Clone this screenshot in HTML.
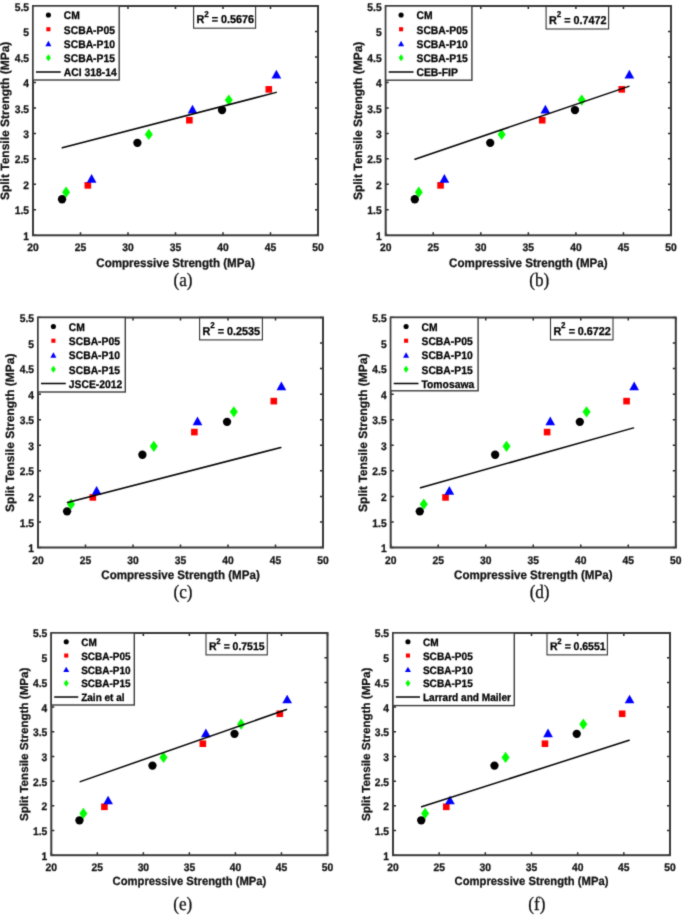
<!DOCTYPE html>
<html><head><meta charset="utf-8"><title>Split tensile vs compressive strength</title>
<style>
html,body{margin:0;padding:0;background:#fff;}
body{width:685px;height:916px;overflow:hidden;}
svg{display:block;}
text{text-rendering:geometricPrecision;}
</style></head>
<body>
<svg width="685" height="916" viewBox="0 0 685 916">
<defs><filter id="soft" x="0" y="0" width="685" height="916" filterUnits="userSpaceOnUse" color-interpolation-filters="sRGB"><feConvolveMatrix order="3" kernelMatrix="0.01917 0.10012 0.01917 0.10012 0.52283 0.10012 0.01917 0.10012 0.01917" divisor="1" preserveAlpha="true" edgeMode="duplicate"/></filter></defs>
<g filter="url(#soft)">
<rect width="685" height="916" fill="#fff"/>
<circle cx="62.07" cy="199.27" r="4.15" fill="#000"/>
<circle cx="137.4" cy="142.82" r="4.15" fill="#000"/>
<circle cx="222.05" cy="110.05" r="4.15" fill="#000"/>
<rect x="84.52" y="182.06" width="6.6" height="6.6" fill="#f00"/>
<rect x="186.07" y="116.94" width="6.6" height="6.6" fill="#f00"/>
<rect x="265.49" y="86.06" width="6.6" height="6.6" fill="#f00"/>
<path d="M91.62 173.98L96.47 182.68L86.77 182.68Z" fill="#00f"/>
<path d="M192.5 104.73L197.35 113.43L187.66 113.43Z" fill="#00f"/>
<path d="M276.39 69.78L281.24 78.48L271.54 78.48Z" fill="#00f"/>
<path d="M66.06 186.54L70.06 192.14L66.06 197.74L62.06 192.14Z" fill="#0f0"/>
<path d="M148.8 128.81L152.8 134.41L148.8 140.01L144.8 134.41Z" fill="#0f0"/>
<path d="M228.79 94.46L232.79 100.06L228.79 105.66L224.79 100.06Z" fill="#0f0"/>
<line x1="62.26" y1="147.81" x2="276.2" y2="92.37" stroke="#000" stroke-width="1.5" stroke-linecap="round"/>
<path d="M33 235.3V232.3M33 6V9M80.5 235.3V232.3M80.5 6V9M128 235.3V232.3M128 6V9M175.5 235.3V232.3M175.5 6V9M223 235.3V232.3M223 6V9M270.5 235.3V232.3M270.5 6V9M318 235.3V232.3M318 6V9M33 235.3H36M318 235.3H315M33 209.82H36M318 209.82H315M33 184.34H36M318 184.34H315M33 158.87H36M318 158.87H315M33 133.39H36M318 133.39H315M33 107.91H36M318 107.91H315M33 82.43H36M318 82.43H315M33 56.96H36M318 56.96H315M33 31.48H36M318 31.48H315M33 6H36M318 6H315" stroke="#262626" stroke-width="1.5" fill="none"/>
<rect x="33" y="6" width="285" height="229.3" fill="none" stroke="#3a3a3a" stroke-width="2.0"/>
<rect x="33" y="6" width="86.2" height="74" fill="#fff" stroke="#3a3a3a" stroke-width="1.4"/>
<circle cx="48.4" cy="15" r="2.57" fill="#000"/>
<text transform="translate(63.8 19.3) scale(1 1.06)" style="font-family:'Liberation Sans',sans-serif;font-weight:bold;font-size:10.35px" fill="#000" stroke="#000" stroke-width="0.25">CM</text>
<rect x="46.35" y="27.2" width="4.09" height="4.09" fill="#f00"/>
<text transform="translate(63.8 33.55) scale(1 1.06)" style="font-family:'Liberation Sans',sans-serif;font-weight:bold;font-size:10.35px" fill="#000" stroke="#000" stroke-width="0.25">SCBA-P05</text>
<path d="M48.4 40.8L51.41 46.2L45.39 46.2Z" fill="#00f"/>
<text transform="translate(63.8 47.8) scale(1 1.06)" style="font-family:'Liberation Sans',sans-serif;font-weight:bold;font-size:10.35px" fill="#000" stroke="#000" stroke-width="0.25">SCBA-P10</text>
<path d="M48.4 54.28L50.88 57.75L48.4 61.22L45.92 57.75Z" fill="#0f0"/>
<text transform="translate(63.8 62.05) scale(1 1.06)" style="font-family:'Liberation Sans',sans-serif;font-weight:bold;font-size:10.35px" fill="#000" stroke="#000" stroke-width="0.25">SCBA-P15</text>
<line x1="36" y1="72" x2="60.8" y2="72" stroke="#000" stroke-width="1.5"/>
<text transform="translate(63.8 76.3) scale(1 1.06)" style="font-family:'Liberation Sans',sans-serif;font-weight:bold;font-size:10.35px" fill="#000" stroke="#000" stroke-width="0.25">ACI 318-14</text>
<rect x="193.6" y="5.9" width="62" height="22.3" fill="none" stroke="#333" stroke-width="1.1"/>
<text transform="translate(196.5 23.2) scale(1 1.06)" style="font-family:'Liberation Sans',sans-serif;font-weight:bold;font-size:10.8px" fill="#000" stroke="#000" stroke-width="0.25">R</text>
<text transform="translate(204.2 16.6) scale(1 1.06)" style="font-family:'Liberation Sans',sans-serif;font-weight:bold;font-size:8px" fill="#000" stroke="#000" stroke-width="0.25">2</text>
<text transform="translate(211.8 23.2) scale(1 1.06)" style="font-family:'Liberation Sans',sans-serif;font-weight:bold;font-size:10.8px" fill="#000" stroke="#000" stroke-width="0.25">=</text>
<text transform="translate(220.9 23.2) scale(1 1.06)" style="font-family:'Liberation Sans',sans-serif;font-weight:bold;font-size:10.8px" fill="#000" stroke="#000" stroke-width="0.25">0.5676</text>
<text transform="translate(33 251.3) scale(1 1.06)" style="font-family:'Liberation Sans',sans-serif;font-weight:bold;font-size:10.3px" fill="#111" stroke="#111" stroke-width="0.25" text-anchor="middle">20</text>
<text transform="translate(80.5 251.3) scale(1 1.06)" style="font-family:'Liberation Sans',sans-serif;font-weight:bold;font-size:10.3px" fill="#111" stroke="#111" stroke-width="0.25" text-anchor="middle">25</text>
<text transform="translate(128 251.3) scale(1 1.06)" style="font-family:'Liberation Sans',sans-serif;font-weight:bold;font-size:10.3px" fill="#111" stroke="#111" stroke-width="0.25" text-anchor="middle">30</text>
<text transform="translate(175.5 251.3) scale(1 1.06)" style="font-family:'Liberation Sans',sans-serif;font-weight:bold;font-size:10.3px" fill="#111" stroke="#111" stroke-width="0.25" text-anchor="middle">35</text>
<text transform="translate(223 251.3) scale(1 1.06)" style="font-family:'Liberation Sans',sans-serif;font-weight:bold;font-size:10.3px" fill="#111" stroke="#111" stroke-width="0.25" text-anchor="middle">40</text>
<text transform="translate(270.5 251.3) scale(1 1.06)" style="font-family:'Liberation Sans',sans-serif;font-weight:bold;font-size:10.3px" fill="#111" stroke="#111" stroke-width="0.25" text-anchor="middle">45</text>
<text transform="translate(318 251.3) scale(1 1.06)" style="font-family:'Liberation Sans',sans-serif;font-weight:bold;font-size:10.3px" fill="#111" stroke="#111" stroke-width="0.25" text-anchor="middle">50</text>
<text transform="translate(29 239.9) scale(1 1.06)" style="font-family:'Liberation Sans',sans-serif;font-weight:bold;font-size:10.3px" fill="#111" stroke="#111" stroke-width="0.25" text-anchor="end">1</text>
<text transform="translate(29 214.42) scale(1 1.06)" style="font-family:'Liberation Sans',sans-serif;font-weight:bold;font-size:10.3px" fill="#111" stroke="#111" stroke-width="0.25" text-anchor="end">1.5</text>
<text transform="translate(29 188.94) scale(1 1.06)" style="font-family:'Liberation Sans',sans-serif;font-weight:bold;font-size:10.3px" fill="#111" stroke="#111" stroke-width="0.25" text-anchor="end">2</text>
<text transform="translate(29 163.47) scale(1 1.06)" style="font-family:'Liberation Sans',sans-serif;font-weight:bold;font-size:10.3px" fill="#111" stroke="#111" stroke-width="0.25" text-anchor="end">2.5</text>
<text transform="translate(29 137.99) scale(1 1.06)" style="font-family:'Liberation Sans',sans-serif;font-weight:bold;font-size:10.3px" fill="#111" stroke="#111" stroke-width="0.25" text-anchor="end">3</text>
<text transform="translate(29 112.51) scale(1 1.06)" style="font-family:'Liberation Sans',sans-serif;font-weight:bold;font-size:10.3px" fill="#111" stroke="#111" stroke-width="0.25" text-anchor="end">3.5</text>
<text transform="translate(29 87.03) scale(1 1.06)" style="font-family:'Liberation Sans',sans-serif;font-weight:bold;font-size:10.3px" fill="#111" stroke="#111" stroke-width="0.25" text-anchor="end">4</text>
<text transform="translate(29 61.56) scale(1 1.06)" style="font-family:'Liberation Sans',sans-serif;font-weight:bold;font-size:10.3px" fill="#111" stroke="#111" stroke-width="0.25" text-anchor="end">4.5</text>
<text transform="translate(29 36.08) scale(1 1.06)" style="font-family:'Liberation Sans',sans-serif;font-weight:bold;font-size:10.3px" fill="#111" stroke="#111" stroke-width="0.25" text-anchor="end">5</text>
<text transform="translate(29 10.6) scale(1 1.06)" style="font-family:'Liberation Sans',sans-serif;font-weight:bold;font-size:10.3px" fill="#111" stroke="#111" stroke-width="0.25" text-anchor="end">5.5</text>
<text transform="translate(175.5 266.5) scale(1 1.06)" style="font-family:'Liberation Sans',sans-serif;font-weight:bold;font-size:11.6px" fill="#111" stroke="#111" stroke-width="0.25" text-anchor="middle">Compressive Strength (MPa)</text>
<text transform="translate(8.8 120.85) rotate(-90)" style="font-family:'Liberation Sans',sans-serif;font-weight:bold;font-size:12px" fill="#111" stroke="#111" stroke-width="0.25" text-anchor="middle">Split Tensile Strength (MPa)</text>
<text transform="translate(183 285.8) scale(0.9 1)" style="font-family:'Liberation Serif',serif;font-size:19px" fill="#111" stroke="#111" stroke-width="0.3" text-anchor="middle">(a)</text>
<circle cx="414.8" cy="199.27" r="4.15" fill="#000"/>
<circle cx="490.21" cy="142.82" r="4.15" fill="#000"/>
<circle cx="574.95" cy="110.05" r="4.15" fill="#000"/>
<rect x="437.27" y="182.06" width="6.6" height="6.6" fill="#f00"/>
<rect x="538.93" y="116.94" width="6.6" height="6.6" fill="#f00"/>
<rect x="618.44" y="86.06" width="6.6" height="6.6" fill="#f00"/>
<path d="M444.38 173.98L449.23 182.68L439.53 182.68Z" fill="#00f"/>
<path d="M545.37 104.73L550.22 113.43L540.52 113.43Z" fill="#00f"/>
<path d="M629.35 69.78L634.2 78.48L624.5 78.48Z" fill="#00f"/>
<path d="M418.79 186.54L422.79 192.14L418.79 197.74L414.79 192.14Z" fill="#0f0"/>
<path d="M501.63 128.81L505.63 134.41L501.63 140.01L497.63 134.41Z" fill="#0f0"/>
<path d="M581.7 94.46L585.7 100.06L581.7 105.66L577.7 100.06Z" fill="#0f0"/>
<line x1="414.99" y1="159.22" x2="628.78" y2="86.36" stroke="#000" stroke-width="1.5" stroke-linecap="round"/>
<path d="M385.7 235.3V232.3M385.7 6V9M433.25 235.3V232.3M433.25 6V9M480.8 235.3V232.3M480.8 6V9M528.35 235.3V232.3M528.35 6V9M575.9 235.3V232.3M575.9 6V9M623.45 235.3V232.3M623.45 6V9M671 235.3V232.3M671 6V9M385.7 235.3H388.7M671 235.3H668M385.7 209.82H388.7M671 209.82H668M385.7 184.34H388.7M671 184.34H668M385.7 158.87H388.7M671 158.87H668M385.7 133.39H388.7M671 133.39H668M385.7 107.91H388.7M671 107.91H668M385.7 82.43H388.7M671 82.43H668M385.7 56.96H388.7M671 56.96H668M385.7 31.48H388.7M671 31.48H668M385.7 6H388.7M671 6H668" stroke="#262626" stroke-width="1.5" fill="none"/>
<rect x="385.7" y="6" width="285.3" height="229.3" fill="none" stroke="#3a3a3a" stroke-width="2.0"/>
<rect x="385.7" y="6" width="86.2" height="74.2" fill="#fff" stroke="#3a3a3a" stroke-width="1.4"/>
<circle cx="401.1" cy="15" r="2.57" fill="#000"/>
<text transform="translate(416.5 19.3) scale(1 1.06)" style="font-family:'Liberation Sans',sans-serif;font-weight:bold;font-size:10.35px" fill="#000" stroke="#000" stroke-width="0.25">CM</text>
<rect x="399.05" y="27.2" width="4.09" height="4.09" fill="#f00"/>
<text transform="translate(416.5 33.55) scale(1 1.06)" style="font-family:'Liberation Sans',sans-serif;font-weight:bold;font-size:10.35px" fill="#000" stroke="#000" stroke-width="0.25">SCBA-P05</text>
<path d="M401.1 40.8L404.11 46.2L398.09 46.2Z" fill="#00f"/>
<text transform="translate(416.5 47.8) scale(1 1.06)" style="font-family:'Liberation Sans',sans-serif;font-weight:bold;font-size:10.35px" fill="#000" stroke="#000" stroke-width="0.25">SCBA-P10</text>
<path d="M401.1 54.28L403.58 57.75L401.1 61.22L398.62 57.75Z" fill="#0f0"/>
<text transform="translate(416.5 62.05) scale(1 1.06)" style="font-family:'Liberation Sans',sans-serif;font-weight:bold;font-size:10.35px" fill="#000" stroke="#000" stroke-width="0.25">SCBA-P15</text>
<line x1="388.7" y1="72" x2="413.5" y2="72" stroke="#000" stroke-width="1.5"/>
<text transform="translate(416.5 76.3) scale(1 1.06)" style="font-family:'Liberation Sans',sans-serif;font-weight:bold;font-size:10.35px" fill="#000" stroke="#000" stroke-width="0.25">CEB-FIP</text>
<rect x="546.1" y="5.9" width="62.5" height="23.1" fill="none" stroke="#333" stroke-width="1.1"/>
<text transform="translate(549 24) scale(1 1.06)" style="font-family:'Liberation Sans',sans-serif;font-weight:bold;font-size:10.8px" fill="#000" stroke="#000" stroke-width="0.25">R</text>
<text transform="translate(556.7 17.4) scale(1 1.06)" style="font-family:'Liberation Sans',sans-serif;font-weight:bold;font-size:8px" fill="#000" stroke="#000" stroke-width="0.25">2</text>
<text transform="translate(564.3 24) scale(1 1.06)" style="font-family:'Liberation Sans',sans-serif;font-weight:bold;font-size:10.8px" fill="#000" stroke="#000" stroke-width="0.25">=</text>
<text transform="translate(573.4 24) scale(1 1.06)" style="font-family:'Liberation Sans',sans-serif;font-weight:bold;font-size:10.8px" fill="#000" stroke="#000" stroke-width="0.25">0.7472</text>
<text transform="translate(385.7 251.3) scale(1 1.06)" style="font-family:'Liberation Sans',sans-serif;font-weight:bold;font-size:10.3px" fill="#111" stroke="#111" stroke-width="0.25" text-anchor="middle">20</text>
<text transform="translate(433.25 251.3) scale(1 1.06)" style="font-family:'Liberation Sans',sans-serif;font-weight:bold;font-size:10.3px" fill="#111" stroke="#111" stroke-width="0.25" text-anchor="middle">25</text>
<text transform="translate(480.8 251.3) scale(1 1.06)" style="font-family:'Liberation Sans',sans-serif;font-weight:bold;font-size:10.3px" fill="#111" stroke="#111" stroke-width="0.25" text-anchor="middle">30</text>
<text transform="translate(528.35 251.3) scale(1 1.06)" style="font-family:'Liberation Sans',sans-serif;font-weight:bold;font-size:10.3px" fill="#111" stroke="#111" stroke-width="0.25" text-anchor="middle">35</text>
<text transform="translate(575.9 251.3) scale(1 1.06)" style="font-family:'Liberation Sans',sans-serif;font-weight:bold;font-size:10.3px" fill="#111" stroke="#111" stroke-width="0.25" text-anchor="middle">40</text>
<text transform="translate(623.45 251.3) scale(1 1.06)" style="font-family:'Liberation Sans',sans-serif;font-weight:bold;font-size:10.3px" fill="#111" stroke="#111" stroke-width="0.25" text-anchor="middle">45</text>
<text transform="translate(671 251.3) scale(1 1.06)" style="font-family:'Liberation Sans',sans-serif;font-weight:bold;font-size:10.3px" fill="#111" stroke="#111" stroke-width="0.25" text-anchor="middle">50</text>
<text transform="translate(381.7 239.9) scale(1 1.06)" style="font-family:'Liberation Sans',sans-serif;font-weight:bold;font-size:10.3px" fill="#111" stroke="#111" stroke-width="0.25" text-anchor="end">1</text>
<text transform="translate(381.7 214.42) scale(1 1.06)" style="font-family:'Liberation Sans',sans-serif;font-weight:bold;font-size:10.3px" fill="#111" stroke="#111" stroke-width="0.25" text-anchor="end">1.5</text>
<text transform="translate(381.7 188.94) scale(1 1.06)" style="font-family:'Liberation Sans',sans-serif;font-weight:bold;font-size:10.3px" fill="#111" stroke="#111" stroke-width="0.25" text-anchor="end">2</text>
<text transform="translate(381.7 163.47) scale(1 1.06)" style="font-family:'Liberation Sans',sans-serif;font-weight:bold;font-size:10.3px" fill="#111" stroke="#111" stroke-width="0.25" text-anchor="end">2.5</text>
<text transform="translate(381.7 137.99) scale(1 1.06)" style="font-family:'Liberation Sans',sans-serif;font-weight:bold;font-size:10.3px" fill="#111" stroke="#111" stroke-width="0.25" text-anchor="end">3</text>
<text transform="translate(381.7 112.51) scale(1 1.06)" style="font-family:'Liberation Sans',sans-serif;font-weight:bold;font-size:10.3px" fill="#111" stroke="#111" stroke-width="0.25" text-anchor="end">3.5</text>
<text transform="translate(381.7 87.03) scale(1 1.06)" style="font-family:'Liberation Sans',sans-serif;font-weight:bold;font-size:10.3px" fill="#111" stroke="#111" stroke-width="0.25" text-anchor="end">4</text>
<text transform="translate(381.7 61.56) scale(1 1.06)" style="font-family:'Liberation Sans',sans-serif;font-weight:bold;font-size:10.3px" fill="#111" stroke="#111" stroke-width="0.25" text-anchor="end">4.5</text>
<text transform="translate(381.7 36.08) scale(1 1.06)" style="font-family:'Liberation Sans',sans-serif;font-weight:bold;font-size:10.3px" fill="#111" stroke="#111" stroke-width="0.25" text-anchor="end">5</text>
<text transform="translate(381.7 10.6) scale(1 1.06)" style="font-family:'Liberation Sans',sans-serif;font-weight:bold;font-size:10.3px" fill="#111" stroke="#111" stroke-width="0.25" text-anchor="end">5.5</text>
<text transform="translate(528.35 266.5) scale(1 1.06)" style="font-family:'Liberation Sans',sans-serif;font-weight:bold;font-size:11.6px" fill="#111" stroke="#111" stroke-width="0.25" text-anchor="middle">Compressive Strength (MPa)</text>
<text transform="translate(361.5 120.85) rotate(-90)" style="font-family:'Liberation Sans',sans-serif;font-weight:bold;font-size:12px" fill="#111" stroke="#111" stroke-width="0.25" text-anchor="middle">Split Tensile Strength (MPa)</text>
<text transform="translate(539.2 285.8) scale(0.9 1)" style="font-family:'Liberation Serif',serif;font-size:19px" fill="#111" stroke="#111" stroke-width="0.3" text-anchor="middle">(b)</text>
<circle cx="67.07" cy="511.36" r="4.15" fill="#000"/>
<circle cx="142.4" cy="454.73" r="4.15" fill="#000"/>
<circle cx="227.05" cy="421.87" r="4.15" fill="#000"/>
<rect x="89.52" y="494.11" width="6.6" height="6.6" fill="#f00"/>
<rect x="191.07" y="428.79" width="6.6" height="6.6" fill="#f00"/>
<rect x="270.49" y="397.82" width="6.6" height="6.6" fill="#f00"/>
<path d="M96.62 486.01L101.47 494.71L91.77 494.71Z" fill="#00f"/>
<path d="M197.5 416.55L202.35 425.25L192.66 425.25Z" fill="#00f"/>
<path d="M281.39 381.49L286.24 390.19L276.54 390.19Z" fill="#00f"/>
<path d="M71.06 498.61L75.06 504.21L71.06 509.81L67.06 504.21Z" fill="#0f0"/>
<path d="M153.8 440.7L157.8 446.3L153.8 451.9L149.8 446.3Z" fill="#0f0"/>
<path d="M233.79 406.25L237.79 411.85L233.79 417.45L229.79 411.85Z" fill="#0f0"/>
<line x1="67.45" y1="502.52" x2="280.82" y2="447.48" stroke="#000" stroke-width="1.5" stroke-linecap="round"/>
<path d="M38 547.5V544.5M38 317.5V320.5M85.5 547.5V544.5M85.5 317.5V320.5M133 547.5V544.5M133 317.5V320.5M180.5 547.5V544.5M180.5 317.5V320.5M228 547.5V544.5M228 317.5V320.5M275.5 547.5V544.5M275.5 317.5V320.5M323 547.5V544.5M323 317.5V320.5M38 547.5H41M323 547.5H320M38 521.94H41M323 521.94H320M38 496.39H41M323 496.39H320M38 470.83H41M323 470.83H320M38 445.28H41M323 445.28H320M38 419.72H41M323 419.72H320M38 394.17H41M323 394.17H320M38 368.61H41M323 368.61H320M38 343.06H41M323 343.06H320M38 317.5H41M323 317.5H320" stroke="#262626" stroke-width="1.5" fill="none"/>
<rect x="38" y="317.5" width="285" height="230" fill="none" stroke="#3a3a3a" stroke-width="2.0"/>
<rect x="38" y="317.5" width="87.3" height="74.5" fill="#fff" stroke="#3a3a3a" stroke-width="1.4"/>
<circle cx="53.4" cy="326.5" r="2.57" fill="#000"/>
<text transform="translate(68.8 330.8) scale(1 1.06)" style="font-family:'Liberation Sans',sans-serif;font-weight:bold;font-size:10.35px" fill="#000" stroke="#000" stroke-width="0.25">CM</text>
<rect x="51.35" y="338.7" width="4.09" height="4.09" fill="#f00"/>
<text transform="translate(68.8 345.05) scale(1 1.06)" style="font-family:'Liberation Sans',sans-serif;font-weight:bold;font-size:10.35px" fill="#000" stroke="#000" stroke-width="0.25">SCBA-P05</text>
<path d="M53.4 352.3L56.41 357.7L50.39 357.7Z" fill="#00f"/>
<text transform="translate(68.8 359.3) scale(1 1.06)" style="font-family:'Liberation Sans',sans-serif;font-weight:bold;font-size:10.35px" fill="#000" stroke="#000" stroke-width="0.25">SCBA-P10</text>
<path d="M53.4 365.78L55.88 369.25L53.4 372.72L50.92 369.25Z" fill="#0f0"/>
<text transform="translate(68.8 373.55) scale(1 1.06)" style="font-family:'Liberation Sans',sans-serif;font-weight:bold;font-size:10.35px" fill="#000" stroke="#000" stroke-width="0.25">SCBA-P15</text>
<line x1="41" y1="383.5" x2="65.8" y2="383.5" stroke="#000" stroke-width="1.5"/>
<text transform="translate(68.8 387.8) scale(1 1.06)" style="font-family:'Liberation Sans',sans-serif;font-weight:bold;font-size:10.35px" fill="#000" stroke="#000" stroke-width="0.25">JSCE-2012</text>
<rect x="199.6" y="317.3" width="62.8" height="22.6" fill="none" stroke="#333" stroke-width="1.1"/>
<text transform="translate(202.5 334.9) scale(1 1.06)" style="font-family:'Liberation Sans',sans-serif;font-weight:bold;font-size:10.8px" fill="#000" stroke="#000" stroke-width="0.25">R</text>
<text transform="translate(210.2 328.3) scale(1 1.06)" style="font-family:'Liberation Sans',sans-serif;font-weight:bold;font-size:8px" fill="#000" stroke="#000" stroke-width="0.25">2</text>
<text transform="translate(217.8 334.9) scale(1 1.06)" style="font-family:'Liberation Sans',sans-serif;font-weight:bold;font-size:10.8px" fill="#000" stroke="#000" stroke-width="0.25">=</text>
<text transform="translate(226.9 334.9) scale(1 1.06)" style="font-family:'Liberation Sans',sans-serif;font-weight:bold;font-size:10.8px" fill="#000" stroke="#000" stroke-width="0.25">0.2535</text>
<text transform="translate(38 563.5) scale(1 1.06)" style="font-family:'Liberation Sans',sans-serif;font-weight:bold;font-size:10.3px" fill="#111" stroke="#111" stroke-width="0.25" text-anchor="middle">20</text>
<text transform="translate(85.5 563.5) scale(1 1.06)" style="font-family:'Liberation Sans',sans-serif;font-weight:bold;font-size:10.3px" fill="#111" stroke="#111" stroke-width="0.25" text-anchor="middle">25</text>
<text transform="translate(133 563.5) scale(1 1.06)" style="font-family:'Liberation Sans',sans-serif;font-weight:bold;font-size:10.3px" fill="#111" stroke="#111" stroke-width="0.25" text-anchor="middle">30</text>
<text transform="translate(180.5 563.5) scale(1 1.06)" style="font-family:'Liberation Sans',sans-serif;font-weight:bold;font-size:10.3px" fill="#111" stroke="#111" stroke-width="0.25" text-anchor="middle">35</text>
<text transform="translate(228 563.5) scale(1 1.06)" style="font-family:'Liberation Sans',sans-serif;font-weight:bold;font-size:10.3px" fill="#111" stroke="#111" stroke-width="0.25" text-anchor="middle">40</text>
<text transform="translate(275.5 563.5) scale(1 1.06)" style="font-family:'Liberation Sans',sans-serif;font-weight:bold;font-size:10.3px" fill="#111" stroke="#111" stroke-width="0.25" text-anchor="middle">45</text>
<text transform="translate(323 563.5) scale(1 1.06)" style="font-family:'Liberation Sans',sans-serif;font-weight:bold;font-size:10.3px" fill="#111" stroke="#111" stroke-width="0.25" text-anchor="middle">50</text>
<text transform="translate(34 552.1) scale(1 1.06)" style="font-family:'Liberation Sans',sans-serif;font-weight:bold;font-size:10.3px" fill="#111" stroke="#111" stroke-width="0.25" text-anchor="end">1</text>
<text transform="translate(34 526.54) scale(1 1.06)" style="font-family:'Liberation Sans',sans-serif;font-weight:bold;font-size:10.3px" fill="#111" stroke="#111" stroke-width="0.25" text-anchor="end">1.5</text>
<text transform="translate(34 500.99) scale(1 1.06)" style="font-family:'Liberation Sans',sans-serif;font-weight:bold;font-size:10.3px" fill="#111" stroke="#111" stroke-width="0.25" text-anchor="end">2</text>
<text transform="translate(34 475.43) scale(1 1.06)" style="font-family:'Liberation Sans',sans-serif;font-weight:bold;font-size:10.3px" fill="#111" stroke="#111" stroke-width="0.25" text-anchor="end">2.5</text>
<text transform="translate(34 449.88) scale(1 1.06)" style="font-family:'Liberation Sans',sans-serif;font-weight:bold;font-size:10.3px" fill="#111" stroke="#111" stroke-width="0.25" text-anchor="end">3</text>
<text transform="translate(34 424.32) scale(1 1.06)" style="font-family:'Liberation Sans',sans-serif;font-weight:bold;font-size:10.3px" fill="#111" stroke="#111" stroke-width="0.25" text-anchor="end">3.5</text>
<text transform="translate(34 398.77) scale(1 1.06)" style="font-family:'Liberation Sans',sans-serif;font-weight:bold;font-size:10.3px" fill="#111" stroke="#111" stroke-width="0.25" text-anchor="end">4</text>
<text transform="translate(34 373.21) scale(1 1.06)" style="font-family:'Liberation Sans',sans-serif;font-weight:bold;font-size:10.3px" fill="#111" stroke="#111" stroke-width="0.25" text-anchor="end">4.5</text>
<text transform="translate(34 347.66) scale(1 1.06)" style="font-family:'Liberation Sans',sans-serif;font-weight:bold;font-size:10.3px" fill="#111" stroke="#111" stroke-width="0.25" text-anchor="end">5</text>
<text transform="translate(34 322.1) scale(1 1.06)" style="font-family:'Liberation Sans',sans-serif;font-weight:bold;font-size:10.3px" fill="#111" stroke="#111" stroke-width="0.25" text-anchor="end">5.5</text>
<text transform="translate(180.5 578.7) scale(1 1.06)" style="font-family:'Liberation Sans',sans-serif;font-weight:bold;font-size:11.6px" fill="#111" stroke="#111" stroke-width="0.25" text-anchor="middle">Compressive Strength (MPa)</text>
<text transform="translate(13.8 432.7) rotate(-90)" style="font-family:'Liberation Sans',sans-serif;font-weight:bold;font-size:12px" fill="#111" stroke="#111" stroke-width="0.25" text-anchor="middle">Split Tensile Strength (MPa)</text>
<text transform="translate(183 598.3) scale(0.9 1)" style="font-family:'Liberation Serif',serif;font-size:19px" fill="#111" stroke="#111" stroke-width="0.3" text-anchor="middle">(c)</text>
<circle cx="419.78" cy="511.36" r="4.15" fill="#000"/>
<circle cx="495.14" cy="454.73" r="4.15" fill="#000"/>
<circle cx="579.82" cy="421.87" r="4.15" fill="#000"/>
<rect x="442.23" y="494.11" width="6.6" height="6.6" fill="#f00"/>
<rect x="543.82" y="428.79" width="6.6" height="6.6" fill="#f00"/>
<rect x="623.27" y="397.82" width="6.6" height="6.6" fill="#f00"/>
<path d="M449.34 486.01L454.19 494.71L444.49 494.71Z" fill="#00f"/>
<path d="M550.26 416.55L555.11 425.25L545.41 425.25Z" fill="#00f"/>
<path d="M634.18 381.49L639.03 390.19L629.33 390.19Z" fill="#00f"/>
<path d="M423.77 498.61L427.77 504.21L423.77 509.81L419.77 504.21Z" fill="#0f0"/>
<path d="M506.55 440.7L510.55 446.3L506.55 451.9L502.55 446.3Z" fill="#0f0"/>
<path d="M586.56 406.25L590.56 411.85L586.56 417.45L582.56 411.85Z" fill="#0f0"/>
<line x1="420.54" y1="487.7" x2="633.51" y2="427.9" stroke="#000" stroke-width="1.5" stroke-linecap="round"/>
<path d="M390.7 547.5V544.5M390.7 317.5V320.5M438.22 547.5V544.5M438.22 317.5V320.5M485.73 547.5V544.5M485.73 317.5V320.5M533.25 547.5V544.5M533.25 317.5V320.5M580.77 547.5V544.5M580.77 317.5V320.5M628.28 547.5V544.5M628.28 317.5V320.5M675.8 547.5V544.5M675.8 317.5V320.5M390.7 547.5H393.7M675.8 547.5H672.8M390.7 521.94H393.7M675.8 521.94H672.8M390.7 496.39H393.7M675.8 496.39H672.8M390.7 470.83H393.7M675.8 470.83H672.8M390.7 445.28H393.7M675.8 445.28H672.8M390.7 419.72H393.7M675.8 419.72H672.8M390.7 394.17H393.7M675.8 394.17H672.8M390.7 368.61H393.7M675.8 368.61H672.8M390.7 343.06H393.7M675.8 343.06H672.8M390.7 317.5H393.7M675.8 317.5H672.8" stroke="#262626" stroke-width="1.5" fill="none"/>
<rect x="390.7" y="317.5" width="285.1" height="230" fill="none" stroke="#3a3a3a" stroke-width="2.0"/>
<rect x="390.7" y="317.5" width="87.4" height="73.3" fill="#fff" stroke="#3a3a3a" stroke-width="1.4"/>
<circle cx="406.1" cy="326.5" r="2.57" fill="#000"/>
<text transform="translate(421.5 330.8) scale(1 1.06)" style="font-family:'Liberation Sans',sans-serif;font-weight:bold;font-size:10.35px" fill="#000" stroke="#000" stroke-width="0.25">CM</text>
<rect x="404.05" y="338.7" width="4.09" height="4.09" fill="#f00"/>
<text transform="translate(421.5 345.05) scale(1 1.06)" style="font-family:'Liberation Sans',sans-serif;font-weight:bold;font-size:10.35px" fill="#000" stroke="#000" stroke-width="0.25">SCBA-P05</text>
<path d="M406.1 352.3L409.11 357.7L403.09 357.7Z" fill="#00f"/>
<text transform="translate(421.5 359.3) scale(1 1.06)" style="font-family:'Liberation Sans',sans-serif;font-weight:bold;font-size:10.35px" fill="#000" stroke="#000" stroke-width="0.25">SCBA-P10</text>
<path d="M406.1 365.78L408.58 369.25L406.1 372.72L403.62 369.25Z" fill="#0f0"/>
<text transform="translate(421.5 373.55) scale(1 1.06)" style="font-family:'Liberation Sans',sans-serif;font-weight:bold;font-size:10.35px" fill="#000" stroke="#000" stroke-width="0.25">SCBA-P15</text>
<line x1="393.7" y1="383.5" x2="418.5" y2="383.5" stroke="#000" stroke-width="1.5"/>
<text transform="translate(421.5 387.8) scale(1 1.06)" style="font-family:'Liberation Sans',sans-serif;font-weight:bold;font-size:10.35px" fill="#000" stroke="#000" stroke-width="0.25">Tomosawa</text>
<rect x="550.5" y="317.3" width="62.5" height="22.6" fill="none" stroke="#333" stroke-width="1.1"/>
<text transform="translate(553.4 334.9) scale(1 1.06)" style="font-family:'Liberation Sans',sans-serif;font-weight:bold;font-size:10.8px" fill="#000" stroke="#000" stroke-width="0.25">R</text>
<text transform="translate(561.1 328.3) scale(1 1.06)" style="font-family:'Liberation Sans',sans-serif;font-weight:bold;font-size:8px" fill="#000" stroke="#000" stroke-width="0.25">2</text>
<text transform="translate(568.7 334.9) scale(1 1.06)" style="font-family:'Liberation Sans',sans-serif;font-weight:bold;font-size:10.8px" fill="#000" stroke="#000" stroke-width="0.25">=</text>
<text transform="translate(577.8 334.9) scale(1 1.06)" style="font-family:'Liberation Sans',sans-serif;font-weight:bold;font-size:10.8px" fill="#000" stroke="#000" stroke-width="0.25">0.6722</text>
<text transform="translate(390.7 563.5) scale(1 1.06)" style="font-family:'Liberation Sans',sans-serif;font-weight:bold;font-size:10.3px" fill="#111" stroke="#111" stroke-width="0.25" text-anchor="middle">20</text>
<text transform="translate(438.22 563.5) scale(1 1.06)" style="font-family:'Liberation Sans',sans-serif;font-weight:bold;font-size:10.3px" fill="#111" stroke="#111" stroke-width="0.25" text-anchor="middle">25</text>
<text transform="translate(485.73 563.5) scale(1 1.06)" style="font-family:'Liberation Sans',sans-serif;font-weight:bold;font-size:10.3px" fill="#111" stroke="#111" stroke-width="0.25" text-anchor="middle">30</text>
<text transform="translate(533.25 563.5) scale(1 1.06)" style="font-family:'Liberation Sans',sans-serif;font-weight:bold;font-size:10.3px" fill="#111" stroke="#111" stroke-width="0.25" text-anchor="middle">35</text>
<text transform="translate(580.77 563.5) scale(1 1.06)" style="font-family:'Liberation Sans',sans-serif;font-weight:bold;font-size:10.3px" fill="#111" stroke="#111" stroke-width="0.25" text-anchor="middle">40</text>
<text transform="translate(628.28 563.5) scale(1 1.06)" style="font-family:'Liberation Sans',sans-serif;font-weight:bold;font-size:10.3px" fill="#111" stroke="#111" stroke-width="0.25" text-anchor="middle">45</text>
<text transform="translate(675.8 563.5) scale(1 1.06)" style="font-family:'Liberation Sans',sans-serif;font-weight:bold;font-size:10.3px" fill="#111" stroke="#111" stroke-width="0.25" text-anchor="middle">50</text>
<text transform="translate(386.7 552.1) scale(1 1.06)" style="font-family:'Liberation Sans',sans-serif;font-weight:bold;font-size:10.3px" fill="#111" stroke="#111" stroke-width="0.25" text-anchor="end">1</text>
<text transform="translate(386.7 526.54) scale(1 1.06)" style="font-family:'Liberation Sans',sans-serif;font-weight:bold;font-size:10.3px" fill="#111" stroke="#111" stroke-width="0.25" text-anchor="end">1.5</text>
<text transform="translate(386.7 500.99) scale(1 1.06)" style="font-family:'Liberation Sans',sans-serif;font-weight:bold;font-size:10.3px" fill="#111" stroke="#111" stroke-width="0.25" text-anchor="end">2</text>
<text transform="translate(386.7 475.43) scale(1 1.06)" style="font-family:'Liberation Sans',sans-serif;font-weight:bold;font-size:10.3px" fill="#111" stroke="#111" stroke-width="0.25" text-anchor="end">2.5</text>
<text transform="translate(386.7 449.88) scale(1 1.06)" style="font-family:'Liberation Sans',sans-serif;font-weight:bold;font-size:10.3px" fill="#111" stroke="#111" stroke-width="0.25" text-anchor="end">3</text>
<text transform="translate(386.7 424.32) scale(1 1.06)" style="font-family:'Liberation Sans',sans-serif;font-weight:bold;font-size:10.3px" fill="#111" stroke="#111" stroke-width="0.25" text-anchor="end">3.5</text>
<text transform="translate(386.7 398.77) scale(1 1.06)" style="font-family:'Liberation Sans',sans-serif;font-weight:bold;font-size:10.3px" fill="#111" stroke="#111" stroke-width="0.25" text-anchor="end">4</text>
<text transform="translate(386.7 373.21) scale(1 1.06)" style="font-family:'Liberation Sans',sans-serif;font-weight:bold;font-size:10.3px" fill="#111" stroke="#111" stroke-width="0.25" text-anchor="end">4.5</text>
<text transform="translate(386.7 347.66) scale(1 1.06)" style="font-family:'Liberation Sans',sans-serif;font-weight:bold;font-size:10.3px" fill="#111" stroke="#111" stroke-width="0.25" text-anchor="end">5</text>
<text transform="translate(386.7 322.1) scale(1 1.06)" style="font-family:'Liberation Sans',sans-serif;font-weight:bold;font-size:10.3px" fill="#111" stroke="#111" stroke-width="0.25" text-anchor="end">5.5</text>
<text transform="translate(533.25 578.7) scale(1 1.06)" style="font-family:'Liberation Sans',sans-serif;font-weight:bold;font-size:11.6px" fill="#111" stroke="#111" stroke-width="0.25" text-anchor="middle">Compressive Strength (MPa)</text>
<text transform="translate(366.5 432.7) rotate(-90)" style="font-family:'Liberation Sans',sans-serif;font-weight:bold;font-size:12px" fill="#111" stroke="#111" stroke-width="0.25" text-anchor="middle">Split Tensile Strength (MPa)</text>
<text transform="translate(539.6 597.8) scale(0.9 1)" style="font-family:'Liberation Serif',serif;font-size:19px" fill="#111" stroke="#111" stroke-width="0.3" text-anchor="middle">(d)</text>
<circle cx="79.47" cy="820.29" r="4.15" fill="#000"/>
<circle cx="152.48" cy="765.58" r="4.15" fill="#000"/>
<circle cx="234.51" cy="733.83" r="4.15" fill="#000"/>
<rect x="101.12" y="803.51" width="6.6" height="6.6" fill="#f00"/>
<rect x="199.54" y="740.4" width="6.6" height="6.6" fill="#f00"/>
<rect x="276.51" y="710.48" width="6.6" height="6.6" fill="#f00"/>
<path d="M108.11 795.65L112.96 804.35L103.26 804.35Z" fill="#00f"/>
<path d="M205.88 728.54L210.73 737.24L201.03 737.24Z" fill="#00f"/>
<path d="M287.17 694.67L292.02 703.37L282.32 703.37Z" fill="#00f"/>
<path d="M83.34 807.78L87.34 813.38L83.34 818.98L79.34 813.38Z" fill="#0f0"/>
<path d="M163.53 751.83L167.53 757.43L163.53 763.03L159.53 757.43Z" fill="#0f0"/>
<path d="M241.05 718.55L245.05 724.15L241.05 729.75L237.05 724.15Z" fill="#0f0"/>
<line x1="80.3" y1="781.63" x2="286.53" y2="709.54" stroke="#000" stroke-width="1.5" stroke-linecap="round"/>
<path d="M51.3 855.2V852.2M51.3 633V636M97.33 855.2V852.2M97.33 633V636M143.37 855.2V852.2M143.37 633V636M189.4 855.2V852.2M189.4 633V636M235.43 855.2V852.2M235.43 633V636M281.47 855.2V852.2M281.47 633V636M327.5 855.2V852.2M327.5 633V636M51.3 855.2H54.3M327.5 855.2H324.5M51.3 830.51H54.3M327.5 830.51H324.5M51.3 805.82H54.3M327.5 805.82H324.5M51.3 781.13H54.3M327.5 781.13H324.5M51.3 756.44H54.3M327.5 756.44H324.5M51.3 731.76H54.3M327.5 731.76H324.5M51.3 707.07H54.3M327.5 707.07H324.5M51.3 682.38H54.3M327.5 682.38H324.5M51.3 657.69H54.3M327.5 657.69H324.5M51.3 633H54.3M327.5 633H324.5" stroke="#262626" stroke-width="1.5" fill="none"/>
<rect x="51.3" y="633" width="276.2" height="222.2" fill="none" stroke="#3a3a3a" stroke-width="2.0"/>
<rect x="51.3" y="633" width="83" height="72" fill="#fff" stroke="#3a3a3a" stroke-width="1.4"/>
<circle cx="66.24" cy="641.73" r="2.57" fill="#000"/>
<text transform="translate(81.18 645.9) scale(1 1.06)" style="font-family:'Liberation Sans',sans-serif;font-weight:bold;font-size:10px" fill="#000" stroke="#000" stroke-width="0.25">CM</text>
<rect x="64.19" y="653.51" width="4.09" height="4.09" fill="#f00"/>
<text transform="translate(81.18 659.72) scale(1 1.06)" style="font-family:'Liberation Sans',sans-serif;font-weight:bold;font-size:10px" fill="#000" stroke="#000" stroke-width="0.25">SCBA-P05</text>
<path d="M66.24 666.68L69.25 672.07L63.23 672.07Z" fill="#00f"/>
<text transform="translate(81.18 673.55) scale(1 1.06)" style="font-family:'Liberation Sans',sans-serif;font-weight:bold;font-size:10px" fill="#000" stroke="#000" stroke-width="0.25">SCBA-P10</text>
<path d="M66.24 679.73L68.72 683.2L66.24 686.67L63.76 683.2Z" fill="#0f0"/>
<text transform="translate(81.18 687.37) scale(1 1.06)" style="font-family:'Liberation Sans',sans-serif;font-weight:bold;font-size:10px" fill="#000" stroke="#000" stroke-width="0.25">SCBA-P15</text>
<line x1="54.21" y1="697.02" x2="78.27" y2="697.02" stroke="#000" stroke-width="1.5"/>
<text transform="translate(81.18 701.19) scale(1 1.06)" style="font-family:'Liberation Sans',sans-serif;font-weight:bold;font-size:10px" fill="#000" stroke="#000" stroke-width="0.25">Zain et al</text>
<rect x="206" y="632.8" width="61.3" height="22.1" fill="none" stroke="#333" stroke-width="1.1"/>
<text transform="translate(208.9 650.05) scale(1 1.06)" style="font-family:'Liberation Sans',sans-serif;font-weight:bold;font-size:10.48px" fill="#000" stroke="#000" stroke-width="0.25">R</text>
<text transform="translate(216.37 643.65) scale(1 1.06)" style="font-family:'Liberation Sans',sans-serif;font-weight:bold;font-size:7.76px" fill="#000" stroke="#000" stroke-width="0.25">2</text>
<text transform="translate(223.74 650.05) scale(1 1.06)" style="font-family:'Liberation Sans',sans-serif;font-weight:bold;font-size:10.48px" fill="#000" stroke="#000" stroke-width="0.25">=</text>
<text transform="translate(232.57 650.05) scale(1 1.06)" style="font-family:'Liberation Sans',sans-serif;font-weight:bold;font-size:10.48px" fill="#000" stroke="#000" stroke-width="0.25">0.7515</text>
<text transform="translate(51.3 870.72) scale(1 1.06)" style="font-family:'Liberation Sans',sans-serif;font-weight:bold;font-size:10.3px" fill="#111" stroke="#111" stroke-width="0.25" text-anchor="middle">20</text>
<text transform="translate(97.33 870.72) scale(1 1.06)" style="font-family:'Liberation Sans',sans-serif;font-weight:bold;font-size:10.3px" fill="#111" stroke="#111" stroke-width="0.25" text-anchor="middle">25</text>
<text transform="translate(143.37 870.72) scale(1 1.06)" style="font-family:'Liberation Sans',sans-serif;font-weight:bold;font-size:10.3px" fill="#111" stroke="#111" stroke-width="0.25" text-anchor="middle">30</text>
<text transform="translate(189.4 870.72) scale(1 1.06)" style="font-family:'Liberation Sans',sans-serif;font-weight:bold;font-size:10.3px" fill="#111" stroke="#111" stroke-width="0.25" text-anchor="middle">35</text>
<text transform="translate(235.43 870.72) scale(1 1.06)" style="font-family:'Liberation Sans',sans-serif;font-weight:bold;font-size:10.3px" fill="#111" stroke="#111" stroke-width="0.25" text-anchor="middle">40</text>
<text transform="translate(281.47 870.72) scale(1 1.06)" style="font-family:'Liberation Sans',sans-serif;font-weight:bold;font-size:10.3px" fill="#111" stroke="#111" stroke-width="0.25" text-anchor="middle">45</text>
<text transform="translate(327.5 870.72) scale(1 1.06)" style="font-family:'Liberation Sans',sans-serif;font-weight:bold;font-size:10.3px" fill="#111" stroke="#111" stroke-width="0.25" text-anchor="middle">50</text>
<text transform="translate(47.3 859.66) scale(1 1.06)" style="font-family:'Liberation Sans',sans-serif;font-weight:bold;font-size:10.3px" fill="#111" stroke="#111" stroke-width="0.25" text-anchor="end">1</text>
<text transform="translate(47.3 834.97) scale(1 1.06)" style="font-family:'Liberation Sans',sans-serif;font-weight:bold;font-size:10.3px" fill="#111" stroke="#111" stroke-width="0.25" text-anchor="end">1.5</text>
<text transform="translate(47.3 810.28) scale(1 1.06)" style="font-family:'Liberation Sans',sans-serif;font-weight:bold;font-size:10.3px" fill="#111" stroke="#111" stroke-width="0.25" text-anchor="end">2</text>
<text transform="translate(47.3 785.6) scale(1 1.06)" style="font-family:'Liberation Sans',sans-serif;font-weight:bold;font-size:10.3px" fill="#111" stroke="#111" stroke-width="0.25" text-anchor="end">2.5</text>
<text transform="translate(47.3 760.91) scale(1 1.06)" style="font-family:'Liberation Sans',sans-serif;font-weight:bold;font-size:10.3px" fill="#111" stroke="#111" stroke-width="0.25" text-anchor="end">3</text>
<text transform="translate(47.3 736.22) scale(1 1.06)" style="font-family:'Liberation Sans',sans-serif;font-weight:bold;font-size:10.3px" fill="#111" stroke="#111" stroke-width="0.25" text-anchor="end">3.5</text>
<text transform="translate(47.3 711.53) scale(1 1.06)" style="font-family:'Liberation Sans',sans-serif;font-weight:bold;font-size:10.3px" fill="#111" stroke="#111" stroke-width="0.25" text-anchor="end">4</text>
<text transform="translate(47.3 686.84) scale(1 1.06)" style="font-family:'Liberation Sans',sans-serif;font-weight:bold;font-size:10.3px" fill="#111" stroke="#111" stroke-width="0.25" text-anchor="end">4.5</text>
<text transform="translate(47.3 662.15) scale(1 1.06)" style="font-family:'Liberation Sans',sans-serif;font-weight:bold;font-size:10.3px" fill="#111" stroke="#111" stroke-width="0.25" text-anchor="end">5</text>
<text transform="translate(47.3 637.46) scale(1 1.06)" style="font-family:'Liberation Sans',sans-serif;font-weight:bold;font-size:10.3px" fill="#111" stroke="#111" stroke-width="0.25" text-anchor="end">5.5</text>
<text transform="translate(189.4 885.46) scale(1 1.06)" style="font-family:'Liberation Sans',sans-serif;font-weight:bold;font-size:11.25px" fill="#111" stroke="#111" stroke-width="0.25" text-anchor="middle">Compressive Strength (MPa)</text>
<text transform="translate(27.83 744.3) rotate(-90)" style="font-family:'Liberation Sans',sans-serif;font-weight:bold;font-size:11.64px" fill="#111" stroke="#111" stroke-width="0.25" text-anchor="middle">Split Tensile Strength (MPa)</text>
<text transform="translate(182.8 909.8) scale(0.9 1)" style="font-family:'Liberation Serif',serif;font-size:19px" fill="#111" stroke="#111" stroke-width="0.3" text-anchor="middle">(e)</text>
<circle cx="421.25" cy="820.29" r="4.15" fill="#000"/>
<circle cx="494.47" cy="765.58" r="4.15" fill="#000"/>
<circle cx="576.74" cy="733.83" r="4.15" fill="#000"/>
<rect x="442.98" y="803.51" width="6.6" height="6.6" fill="#f00"/>
<rect x="541.68" y="740.4" width="6.6" height="6.6" fill="#f00"/>
<rect x="618.87" y="710.48" width="6.6" height="6.6" fill="#f00"/>
<path d="M449.97 795.65L454.82 804.35L445.12 804.35Z" fill="#00f"/>
<path d="M548.03 728.54L552.88 737.24L543.18 737.24Z" fill="#00f"/>
<path d="M629.56 694.67L634.41 703.37L624.71 703.37Z" fill="#00f"/>
<path d="M425.13 807.78L429.13 813.38L425.13 818.98L421.13 813.38Z" fill="#0f0"/>
<path d="M505.55 751.83L509.55 757.43L505.55 763.03L501.55 757.43Z" fill="#0f0"/>
<path d="M583.3 718.55L587.3 724.15L583.3 729.75L579.3 724.15Z" fill="#0f0"/>
<line x1="421.62" y1="806.81" x2="629.1" y2="740.3" stroke="#000" stroke-width="1.5" stroke-linecap="round"/>
<path d="M393 855.2V852.2M393 633V636M439.17 855.2V852.2M439.17 633V636M485.33 855.2V852.2M485.33 633V636M531.5 855.2V852.2M531.5 633V636M577.67 855.2V852.2M577.67 633V636M623.83 855.2V852.2M623.83 633V636M670 855.2V852.2M670 633V636M393 855.2H396M670 855.2H667M393 830.51H396M670 830.51H667M393 805.82H396M670 805.82H667M393 781.13H396M670 781.13H667M393 756.44H396M670 756.44H667M393 731.76H396M670 731.76H667M393 707.07H396M670 707.07H667M393 682.38H396M670 682.38H667M393 657.69H396M670 657.69H667M393 633H396M670 633H667" stroke="#262626" stroke-width="1.5" fill="none"/>
<rect x="393" y="633" width="277" height="222.2" fill="none" stroke="#3a3a3a" stroke-width="2.0"/>
<rect x="393" y="633" width="121.3" height="72.6" fill="#fff" stroke="#3a3a3a" stroke-width="1.4"/>
<circle cx="407.94" cy="641.73" r="2.57" fill="#000"/>
<text transform="translate(422.88 645.9) scale(1 1.06)" style="font-family:'Liberation Sans',sans-serif;font-weight:bold;font-size:10.1px" fill="#000" stroke="#000" stroke-width="0.25">CM</text>
<rect x="405.89" y="653.51" width="4.09" height="4.09" fill="#f00"/>
<text transform="translate(422.88 659.72) scale(1 1.06)" style="font-family:'Liberation Sans',sans-serif;font-weight:bold;font-size:10.1px" fill="#000" stroke="#000" stroke-width="0.25">SCBA-P05</text>
<path d="M407.94 666.68L410.94 672.07L404.93 672.07Z" fill="#00f"/>
<text transform="translate(422.88 673.55) scale(1 1.06)" style="font-family:'Liberation Sans',sans-serif;font-weight:bold;font-size:10.1px" fill="#000" stroke="#000" stroke-width="0.25">SCBA-P10</text>
<path d="M407.94 679.73L410.42 683.2L407.94 686.67L405.46 683.2Z" fill="#0f0"/>
<text transform="translate(422.88 687.37) scale(1 1.06)" style="font-family:'Liberation Sans',sans-serif;font-weight:bold;font-size:10.1px" fill="#000" stroke="#000" stroke-width="0.25">SCBA-P15</text>
<line x1="395.91" y1="697.02" x2="419.97" y2="697.02" stroke="#000" stroke-width="1.5"/>
<text transform="translate(422.88 701.19) scale(1 1.06)" style="font-family:'Liberation Sans',sans-serif;font-weight:bold;font-size:10.1px" fill="#000" stroke="#000" stroke-width="0.25">Larrard and Mailer</text>
<rect x="547" y="632.8" width="60.4" height="22.1" fill="none" stroke="#333" stroke-width="1.1"/>
<text transform="translate(549.9 650.05) scale(1 1.06)" style="font-family:'Liberation Sans',sans-serif;font-weight:bold;font-size:10.48px" fill="#000" stroke="#000" stroke-width="0.25">R</text>
<text transform="translate(557.37 643.65) scale(1 1.06)" style="font-family:'Liberation Sans',sans-serif;font-weight:bold;font-size:7.76px" fill="#000" stroke="#000" stroke-width="0.25">2</text>
<text transform="translate(564.74 650.05) scale(1 1.06)" style="font-family:'Liberation Sans',sans-serif;font-weight:bold;font-size:10.48px" fill="#000" stroke="#000" stroke-width="0.25">=</text>
<text transform="translate(573.57 650.05) scale(1 1.06)" style="font-family:'Liberation Sans',sans-serif;font-weight:bold;font-size:10.48px" fill="#000" stroke="#000" stroke-width="0.25">0.6551</text>
<text transform="translate(393 870.72) scale(1 1.06)" style="font-family:'Liberation Sans',sans-serif;font-weight:bold;font-size:10.3px" fill="#111" stroke="#111" stroke-width="0.25" text-anchor="middle">20</text>
<text transform="translate(439.17 870.72) scale(1 1.06)" style="font-family:'Liberation Sans',sans-serif;font-weight:bold;font-size:10.3px" fill="#111" stroke="#111" stroke-width="0.25" text-anchor="middle">25</text>
<text transform="translate(485.33 870.72) scale(1 1.06)" style="font-family:'Liberation Sans',sans-serif;font-weight:bold;font-size:10.3px" fill="#111" stroke="#111" stroke-width="0.25" text-anchor="middle">30</text>
<text transform="translate(531.5 870.72) scale(1 1.06)" style="font-family:'Liberation Sans',sans-serif;font-weight:bold;font-size:10.3px" fill="#111" stroke="#111" stroke-width="0.25" text-anchor="middle">35</text>
<text transform="translate(577.67 870.72) scale(1 1.06)" style="font-family:'Liberation Sans',sans-serif;font-weight:bold;font-size:10.3px" fill="#111" stroke="#111" stroke-width="0.25" text-anchor="middle">40</text>
<text transform="translate(623.83 870.72) scale(1 1.06)" style="font-family:'Liberation Sans',sans-serif;font-weight:bold;font-size:10.3px" fill="#111" stroke="#111" stroke-width="0.25" text-anchor="middle">45</text>
<text transform="translate(670 870.72) scale(1 1.06)" style="font-family:'Liberation Sans',sans-serif;font-weight:bold;font-size:10.3px" fill="#111" stroke="#111" stroke-width="0.25" text-anchor="middle">50</text>
<text transform="translate(389 859.66) scale(1 1.06)" style="font-family:'Liberation Sans',sans-serif;font-weight:bold;font-size:10.3px" fill="#111" stroke="#111" stroke-width="0.25" text-anchor="end">1</text>
<text transform="translate(389 834.97) scale(1 1.06)" style="font-family:'Liberation Sans',sans-serif;font-weight:bold;font-size:10.3px" fill="#111" stroke="#111" stroke-width="0.25" text-anchor="end">1.5</text>
<text transform="translate(389 810.28) scale(1 1.06)" style="font-family:'Liberation Sans',sans-serif;font-weight:bold;font-size:10.3px" fill="#111" stroke="#111" stroke-width="0.25" text-anchor="end">2</text>
<text transform="translate(389 785.6) scale(1 1.06)" style="font-family:'Liberation Sans',sans-serif;font-weight:bold;font-size:10.3px" fill="#111" stroke="#111" stroke-width="0.25" text-anchor="end">2.5</text>
<text transform="translate(389 760.91) scale(1 1.06)" style="font-family:'Liberation Sans',sans-serif;font-weight:bold;font-size:10.3px" fill="#111" stroke="#111" stroke-width="0.25" text-anchor="end">3</text>
<text transform="translate(389 736.22) scale(1 1.06)" style="font-family:'Liberation Sans',sans-serif;font-weight:bold;font-size:10.3px" fill="#111" stroke="#111" stroke-width="0.25" text-anchor="end">3.5</text>
<text transform="translate(389 711.53) scale(1 1.06)" style="font-family:'Liberation Sans',sans-serif;font-weight:bold;font-size:10.3px" fill="#111" stroke="#111" stroke-width="0.25" text-anchor="end">4</text>
<text transform="translate(389 686.84) scale(1 1.06)" style="font-family:'Liberation Sans',sans-serif;font-weight:bold;font-size:10.3px" fill="#111" stroke="#111" stroke-width="0.25" text-anchor="end">4.5</text>
<text transform="translate(389 662.15) scale(1 1.06)" style="font-family:'Liberation Sans',sans-serif;font-weight:bold;font-size:10.3px" fill="#111" stroke="#111" stroke-width="0.25" text-anchor="end">5</text>
<text transform="translate(389 637.46) scale(1 1.06)" style="font-family:'Liberation Sans',sans-serif;font-weight:bold;font-size:10.3px" fill="#111" stroke="#111" stroke-width="0.25" text-anchor="end">5.5</text>
<text transform="translate(531.5 885.46) scale(1 1.06)" style="font-family:'Liberation Sans',sans-serif;font-weight:bold;font-size:11.25px" fill="#111" stroke="#111" stroke-width="0.25" text-anchor="middle">Compressive Strength (MPa)</text>
<text transform="translate(369.53 744.3) rotate(-90)" style="font-family:'Liberation Sans',sans-serif;font-weight:bold;font-size:11.64px" fill="#111" stroke="#111" stroke-width="0.25" text-anchor="middle">Split Tensile Strength (MPa)</text>
<text transform="translate(536.8 909.8) scale(0.9 1)" style="font-family:'Liberation Serif',serif;font-size:19px" fill="#111" stroke="#111" stroke-width="0.3" text-anchor="middle">(f)</text>
</g>
</svg>
</body></html>
